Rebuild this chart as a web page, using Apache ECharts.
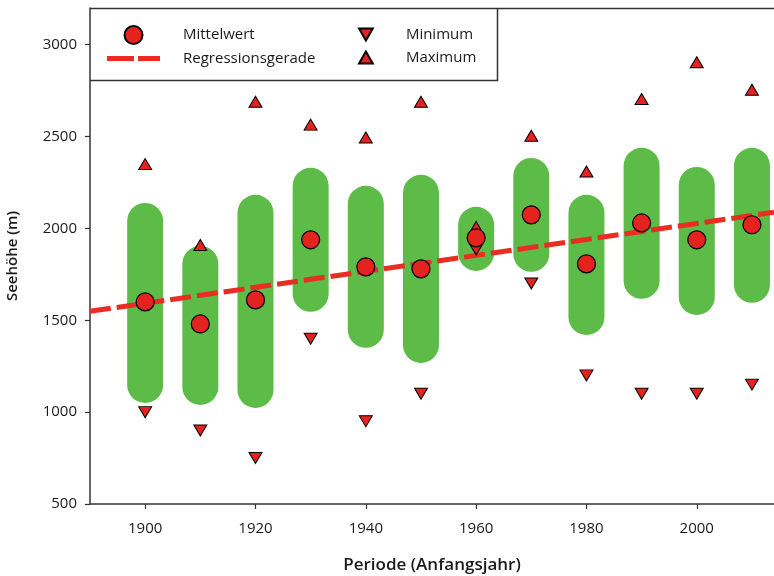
<!DOCTYPE html>
<html><head><meta charset="utf-8">
<script src="https://cdn.jsdelivr.net/npm/echarts@6/dist/echarts.min.js"></script>
<style>html,body{margin:0;padding:0;background:#fff}#c{width:774px;height:576px}</style>
</head><body><div id="c"></div>
<script>
const years = [1900,1910,1920,1930,1940,1950,1960,1970,1980,1990,2000,2010];
const meanVals = [1600,1480,1611,1938,1791,1780,1949,2074,1807,2030,1938,2020];
const minVals = [1000,900,750,1400,950,1100,1885,1700,1200,1100,1100,1150];
const maxVals = [2350,1910,2690,2565,2495,2690,2008,2505,2310,2705,2905,2755];
const bandLow = [1050,1039,1023,1546,1350,1268,1769,1764,1420,1617,1529,1595];
const bandHigh = [2139,1905,2183,2330,2232,2292,2118,2384,2183,2439,2335,2439];
const regYears = [1890,2014];
const regVals = [1549,2088];
const xTickLabels = [1900,1920,1940,1960,1980,2000];
const yTickLabels = [500,1000,1500,2000,2500,3000];

const FONT = '"Open Sans", "Noto Sans", sans-serif';
const RED = '#e4231f';
const chart = echarts.init(document.getElementById('c'), null, {renderer:'canvas'});
const downTri = 'path://M0,0 L10,0 L5,8.7 Z';
const upTri = 'path://M5,0 L10,8.7 L0,8.7 Z';
const dashIcon = 'path://M0,0 L27,0 L27,5 L0,5 Z M31,0 L53,0 L53,5 L31,5 Z';

const option = {
  animation: false,
  backgroundColor: '#fff',
  grid: {left: 90, top: 8, right: 0, bottom: 72, containLabel: false, outerBoundsMode: 'none'},
  xAxis: {
    type: 'value', min: 1890, max: 2014,
    name: 'Periode (Anfangsjahr)', nameLocation: 'middle', nameGap: 53,
    nameTextStyle: {fontFamily: FONT, fontSize: 17, fontWeight: 600, color: '#1a1a1a'},
    axisLine: {show: true, lineStyle: {color: '#333', width: 1.5}},
    axisTick: {show: true, length: 5, lineStyle: {color: '#333', width: 1.2}, customValues: xTickLabels},
    axisLabel: {fontFamily: FONT, fontSize: 15, color: '#1a1a1a', margin: 17, customValues: xTickLabels,
      formatter: v => String(v)},
    splitLine: {show: false}
  },
  yAxis: {
    type: 'value', min: 500, max: 3200,
    name: 'Seehöhe (m)', nameLocation: 'middle', nameGap: 70, nameRotate: 90,
    nameTextStyle: {fontFamily: FONT, fontSize: 15, fontWeight: 600, color: '#1a1a1a'},
    axisLine: {show: true, lineStyle: {color: '#333', width: 1.5}},
    axisTick: {show: true, length: 5, lineStyle: {color: '#333', width: 1.2}, customValues: yTickLabels},
    axisLabel: {fontFamily: FONT, fontSize: 15, color: '#1a1a1a', margin: 13, customValues: yTickLabels,
      formatter: v => String(v)},
    splitLine: {show: false}
  },
  legend: [
    {
      left: 102, top: 20, orient: 'vertical', itemWidth: 53, itemHeight: 18, itemGap: 6,
      data: ['Mittelwert', {name: 'Regressionsgerade', icon: dashIcon}],
      textStyle: {fontFamily: FONT, fontSize: 15, color: '#1a1a1a', padding: [0,0,0,18]}
    },
    {
      left: 353, top: 22, orient: 'vertical', itemWidth: 14, itemHeight: 12, itemGap: 8,
      data: ['Minimum', 'Maximum'],
      textStyle: {fontFamily: FONT, fontSize: 15, color: '#1a1a1a', padding: [0,0,0,28]}
    }
  ],
  graphic: [
    {type: 'polyline', shape: {points: [[90,8.5],[774,8.5]]}, style: {stroke: '#333', lineWidth: 1.5, fill: null}, silent: true},
    {type: 'polyline', shape: {points: [[90,80.5],[497.5,80.5],[497.5,8]]}, style: {stroke: '#333', lineWidth: 1.5, fill: null}, silent: true}
  ],
  series: [
    {
      type: 'custom', name: 'Band', z: 1,
      data: years.map((y,i) => [y, bandLow[i], bandHigh[i]]),
      renderItem: function(params, api) {
        const lo = api.coord([api.value(0), api.value(1)]);
        const hi = api.coord([api.value(0), api.value(2)]);
        const w = 36;
        return {
          type: 'rect',
          shape: {x: lo[0] - w/2, y: hi[1], width: w, height: lo[1] - hi[1], r: w/2},
          style: {fill: '#5dbb47'}
        };
      }
    },
    {
      type: 'line', name: 'Regressionsgerade', z: 3,
      data: regYears.map((y,i) => [y, regVals[i]]),
      symbol: 'none', showSymbol: false,
      lineStyle: {color: '#ea2c22', width: 5, type: [21, 6]},
      itemStyle: {color: '#ea2c22'}
    },
    {
      type: 'scatter', name: 'Minimum', z: 4,
      data: years.map((y,i) => [y, minVals[i]]),
      symbol: downTri, symbolSize: [13, 11],
      itemStyle: {color: RED, borderColor: '#000', borderWidth: 1, opacity: 1}
    },
    {
      type: 'scatter', name: 'Maximum', z: 4,
      data: years.map((y,i) => [y, maxVals[i]]),
      symbol: upTri, symbolSize: [13, 11],
      itemStyle: {color: RED, borderColor: '#000', borderWidth: 1, opacity: 1}
    },
    {
      type: 'scatter', name: 'Mittelwert', z: 5,
      data: years.map((y,i) => [y, meanVals[i]]),
      symbol: 'circle', symbolSize: 18,
      itemStyle: {color: RED, borderColor: '#000', borderWidth: 1.2, opacity: 1}
    }
  ]
};
chart.setOption(option);
</script></body></html>
